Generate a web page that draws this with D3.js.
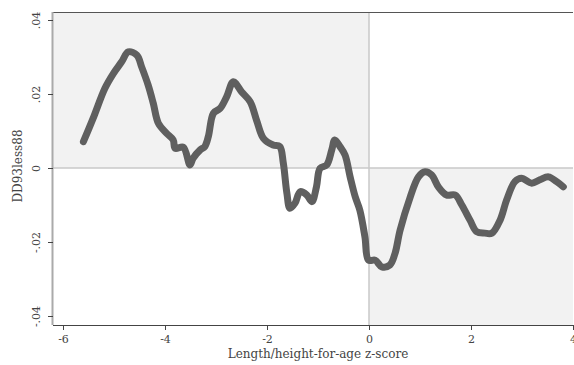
<!DOCTYPE html>
<meta charset="utf-8">
<style>
  body { margin: 0; background: #fff; }
  text { font-family: "DejaVu Serif", "Liberation Serif", serif; fill: #444; }
</style>
<svg width="574" height="365"></svg>
<script src="https://d3js.org/d3.v7.min.js"></script>
<script>
  // z-score (x) and difference DD93less88 (y)
  var zscore = [-5.60, -5.41, -5.18, -5.01, -4.85, -4.72, -4.55, -4.46, -4.33, -4.23, -4.13, -3.97, -3.84, -3.80,
    -3.64, -3.51, -3.45, -3.31, -3.22, -3.15, -3.05, -2.92, -2.79, -2.66, -2.50, -2.33, -2.20, -2.07, -1.88,
    -1.75, -1.68, -1.61, -1.55, -1.45, -1.35, -1.22, -1.12, -1.03, -0.96, -0.83, -0.73, -0.67, -0.57, -0.47,
    -0.37, -0.27, -0.18, -0.08, -0.01, 0.12, 0.25, 0.41, 0.51, 0.61, 0.80, 0.97, 1.10, 1.23, 1.36, 1.52, 1.69,
    1.82, 1.98, 2.11, 2.27, 2.41, 2.57, 2.70, 2.86, 2.99, 3.19, 3.35, 3.52, 3.68, 3.81];
  var diff = [0.0071, 0.0134, 0.0215, 0.0256, 0.0287, 0.0314, 0.0305, 0.0274, 0.0224, 0.0175, 0.0121, 0.0094, 0.0076, 0.0053,
    0.0056, 0.0008, 0.0026, 0.0049, 0.0058, 0.0085, 0.0148, 0.0161, 0.0193, 0.0233, 0.0206, 0.0179, 0.0127, 0.0080, 0.0062,
    0.0058, 0.0013, -0.0068, -0.0109, -0.0095, -0.0064, -0.0073, -0.0091, -0.0051, -0.0001, 0.0008, 0.0049, 0.0076, 0.0058, 0.0035,
    -0.0024, -0.0078, -0.0114, -0.0186, -0.0249, -0.0249, -0.0267, -0.0262, -0.0231, -0.0168, -0.0082, -0.0024, -0.0010, -0.0019, -0.0051, -0.0073, -0.0073,
    -0.0100, -0.0141, -0.0172, -0.0176, -0.0176, -0.0141, -0.0086, -0.0037, -0.0028, -0.0041, -0.0032, -0.0024, -0.0037, -0.0051];

  var xTicks = [-6, -4, -2, 0, 2, 4];
  var yTicks = [-0.04, -0.02, 0, 0.02, 0.04];
  var yLabels = ["-.04", "-.02", "0", ".02", ".04"];

  var svg = d3.select("svg");
  var plotL = 53, plotR = 573, plotT = 12, plotB = 325;

  var x = d3.scaleLinear().domain([-6, 4]).range([63, 573]);
  var y = d3.scaleLinear().domain([-0.04, 0.04]).range([316, 20]);

  // shaded quadrants
  svg.append("rect")
    .attr("x", plotL).attr("y", plotT)
    .attr("width", x(0) - plotL).attr("height", y(0) - plotT)
    .attr("fill", "#f2f2f2");
  svg.append("rect")
    .attr("x", x(0)).attr("y", y(0))
    .attr("width", plotR - x(0)).attr("height", plotB - y(0))
    .attr("fill", "#f2f2f2");

  // zero reference lines
  svg.append("line")
    .attr("x1", plotL).attr("x2", plotR).attr("y1", y(0)).attr("y2", y(0))
    .attr("stroke", "#c8c8c8").attr("stroke-width", 1.5);
  svg.append("line")
    .attr("x1", x(0)).attr("x2", x(0)).attr("y1", plotT).attr("y2", plotB)
    .attr("stroke", "#c8c8c8").attr("stroke-width", 1.5);

  // top border
  svg.append("line")
    .attr("x1", plotL).attr("x2", plotR).attr("y1", plotT + 0.5).attr("y2", plotT + 0.5)
    .attr("stroke", "#555").attr("stroke-width", 1);

  // thick curve of dense markers
  var pts = d3.zip(zscore, diff);
  var line = d3.line()
    .x(function(d) { return x(d[0]); })
    .y(function(d) { return y(d[1]); })
    .curve(d3.curveCatmullRom);
  svg.append("path")
    .attr("d", line(pts))
    .attr("fill", "none")
    .attr("stroke", "#5f5f5f")
    .attr("stroke-width", 7)
    .attr("stroke-linecap", "round")
    .attr("stroke-linejoin", "round");

  // x axis
  var xAxis = svg.append("g")
    .attr("transform", "translate(0," + plotB + ")")
    .call(d3.axisBottom(x).tickValues(xTicks).tickSize(5).tickPadding(5));
  xAxis.select(".domain").attr("d", "M" + plotL + ",0.5H" + plotR).attr("stroke", "#444");
  xAxis.selectAll(".tick line").attr("stroke", "#444");
  xAxis.selectAll("text").attr("font-size", 11).attr("fill", "#555")
    .text(function(d) { return d < 0 ? "-" + Math.abs(d) : d; });

  // y axis
  var yAxis = svg.append("g")
    .attr("transform", "translate(" + plotL + ",0)")
    .call(d3.axisLeft(y).tickValues(yTicks).tickSize(5).tickFormat(function(d, i) { return yLabels[i]; }));
  yAxis.select(".domain").attr("d", "M-0.5," + plotT + "V" + plotB).attr("stroke", "#aaa").attr("stroke-width", 2);
  yAxis.selectAll(".tick line").attr("stroke", "#444");
  yAxis.selectAll(".tick text")
    .attr("font-size", 11).attr("fill", "#555")
    .attr("x", null).attr("dy", null)
    .attr("text-anchor", "middle")
    .attr("transform", "translate(-13,0) rotate(-90)");

  // titles
  svg.append("text")
    .attr("x", 318).attr("y", 358)
    .attr("text-anchor", "middle")
    .attr("font-size", 12)
    .attr("fill", "#333")
    .text("Length/height-for-age z-score");
  svg.append("text")
    .attr("transform", "translate(22,166) rotate(-90)")
    .attr("text-anchor", "middle")
    .attr("font-size", 12)
    .attr("fill", "#333")
    .text("DD93less88");
</script>
